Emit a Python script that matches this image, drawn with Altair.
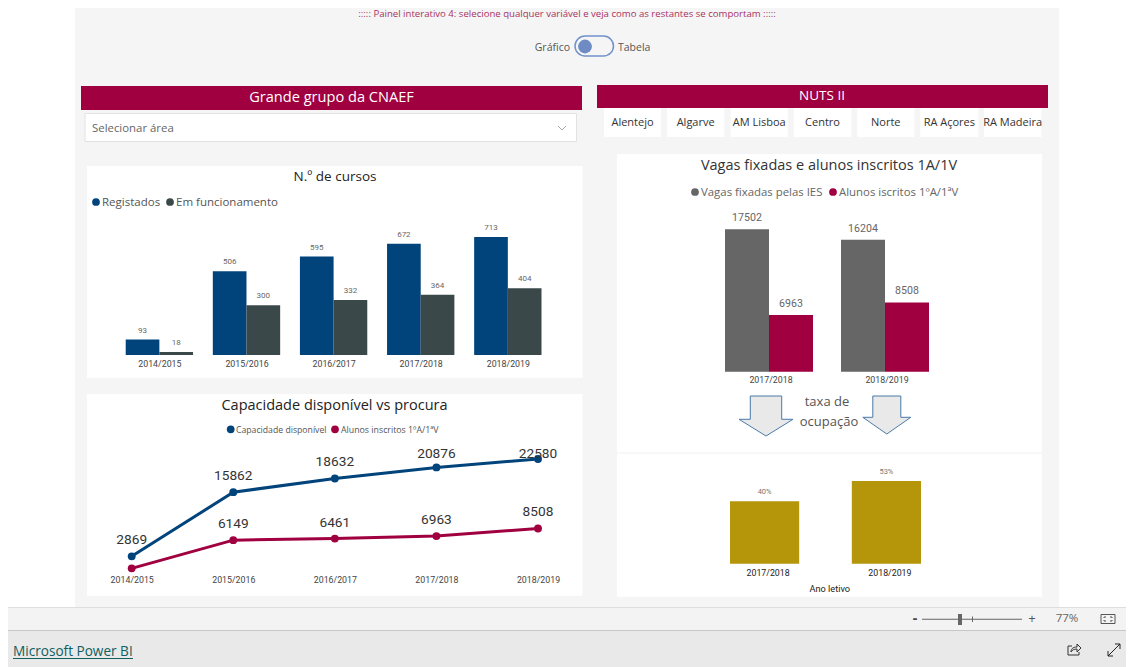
import altair as alt
import pandas as pd

# ---------- data ----------
anos5 = ["2014/2015", "2015/2016", "2016/2017", "2017/2018", "2018/2019"]
anos2 = ["2017/2018", "2018/2019"]
registados = [93, 506, 595, 672, 713]
em_funcionamento = [18, 300, 332, 364, 404]
capacidade = [2869, 15862, 18632, 20876, 22580]
inscritos = [440, 6149, 6461, 6963, 8508]
vagas2 = [17502, 16204]
inscritos2 = [6963, 8508]
taxa = [0.40, 0.53]
regioes = ["Alentejo", "Algarve", "AM Lisboa", "Centro", "Norte", "RA Açores", "RA Madeira"]

RED = "#A0003F"
BLUE = "#01437B"
DARK = "#3B484A"
GREY = "#666666"
GOLD = "#B5950A"
UI = "Open Sans"
NUM = "Roboto"
W, H = 1118, 659


def px(v):
    return v - 8


def one(t="x"):
    return pd.DataFrame({"t": [t]})


def box(x0, y0, x1, y1, fill, stroke=None, radius=0, sw=1):
    kw = dict(fill=fill, cornerRadius=radius)
    if stroke:
        kw.update(stroke=stroke, strokeWidth=sw)
    return alt.Chart(one()).mark_rect(**kw).encode(
        x=alt.value(px(x0)), x2=alt.value(px(x1)), y=alt.value(px(y0)), y2=alt.value(px(y1)))


def label(t, x, y, size, color, align="center", font=UI, weight="normal"):
    return alt.Chart(one(t)).mark_text(
        fontSize=size, color=color, align=align, baseline="middle", font=font, fontWeight=weight
    ).encode(text="t:N", x=alt.value(px(x)), y=alt.value(px(y)))


def glyph(path, x, y, fill=None, stroke=None, sw=1, size=4):
    kw = dict(shape=path, size=size, opacity=1)
    if fill:
        kw.update(filled=True, fill=fill)
    else:
        kw.update(filled=False)
    if stroke:
        kw.update(stroke=stroke, strokeWidth=sw)
    return alt.Chart(one()).mark_point(**kw).encode(x=alt.value(px(x)), y=alt.value(px(y)))


def dot(x, y, color, size=60):
    return alt.Chart(one()).mark_point(filled=True, fill=color, size=size, opacity=1, shape="circle").encode(
        x=alt.value(px(x)), y=alt.value(px(y)))


def bottom_axis(base_y, pad=5, color="#444444", size=8.8, **kw):
    return alt.Axis(title=kw.pop("title", None), orient="bottom", domain=False, ticks=False, grid=False, labelAngle=0,
                    labelFont=NUM, labelFontSize=size, labelColor=color, labelPadding=pad,
                    offset=px(base_y) - H, zindex=1, **kw)


# ---------- page furniture ----------
layers = [
    box(75, 0, 1059, 607, "#F5F5F5"),
    box(0, 607, 1134, 630, "#F3F3F3"),
    box(0, 607, 1134, 608, "#DEDEDE"),
    box(0, 630, 1134, 667, "#E9E9E9"),
    box(0, 630, 1134, 631, "#C8C8C8"),
    label("::::: Painel interativo 4: selecione qualquer variável e veja como as restantes se comportam :::::",
          567, 13.5, 9.6, "#A8335F"),
    label("Gráfico", 570, 47.5, 10.5, "#555555", "right"),
    label("Tabela", 618, 47.5, 10.5, "#555555", "left"),
    box(575, 36, 613.5, 56, "#F5F5F5", "#7091CC", 10, 1.5),
    dot(585, 46.5, "#6F8BC4", 190),
    box(81, 86, 582, 110, RED),
    label("Grande grupo da CNAEF", 331.5, 97.5, 14.6, "#FFFFFF"),
    box(85, 113.5, 576.5, 141.5, "#FFFFFF", "#E2E2E2"),
    label("Selecionar área", 92, 128.5, 11.4, "#666666", "left"),
    glyph("M-4 -2 L0 2 L4 -2", 562, 128, None, "#A8A8A8", 1),
    box(597, 85, 1048, 108, RED),
    label("NUTS II", 822, 95.5, 13.5, "#FFFFFF"),
]
btn_edges = [(604, 661), (667, 724.3), (730.7, 787.7), (793.7, 851.3), (857.3, 914.3), (920.3, 978.3), (984, 1041.3)]
for reg, (a, b) in zip(regioes, btn_edges):
    layers.append(box(a, 108, b, 137, "#FFFFFF"))
    layers.append(label(reg, (a + b) / 2, 123, 11, "#333333"))

layers += [
    box(87, 166, 582.5, 377.7, "#FFFFFF"),
    box(87, 394, 582.5, 595.7, "#FFFFFF"),
    box(617, 154, 1042, 596.7, "#FFFFFF"),
    box(617, 452.5, 1042, 453.5, "#F2F2F2"),
    # N.o de cursos
    label("N.º de cursos", 335, 176.5, 13.5, "#222222"),
    dot(96, 202, BLUE),
    label("Registados", 102, 203, 11.5, "#555555", "left"),
    dot(170, 202, DARK),
    label("Em funcionamento", 176, 203, 11.5, "#555555", "left"),
    # Capacidade
    label("Capacidade disponível vs procura", 334.5, 406, 14.5, "#222222"),
    dot(230.7, 429.3, BLUE),
    label("Capacidade disponível", 236, 429.5, 8.7, "#555555", "left"),
    dot(335, 429.3, RED),
    label("Alunos inscritos 1ºA/1ªV", 341, 429.5, 8.8, "#555555", "left"),
    # Vagas
    label("Vagas fixadas e alunos inscritos 1A/1V", 829, 166, 14.5, "#333333"),
    dot(695, 192, GREY),
    label("Vagas fixadas pelas IES", 701, 192.5, 11.4, "#666666", "left"),
    dot(833, 192, RED),
    label("Alunos iscritos 1ºA/1ªV", 839, 192.5, 11.4, "#666666", "left"),
    # arrows
    glyph("M-15.7 -20 L15.7 -20 L15.7 3.3 L27 3.3 L0 20 L-27 3.3 L-15.7 3.3 Z", 766, 416, "#E9E9E9", "#4A7BA8"),
    glyph("M-14 -19 L14 -19 L14 2.3 L24 2.3 L0 19 L-24 2.3 L-14 2.3 Z", 886.8, 415, "#E9E9E9", "#4A7BA8"),
    label("taxa de", 827, 402, 13, "#555555"),
    label("ocupação", 829, 421.7, 13, "#555555"),
    # status bar
    label("-", 915, 618.5, 14, "#444444", weight="bold"),
    box(922, 618.7, 1022, 619.7, "#666666"),
    box(958, 614, 962, 625, "#666666"),
    box(972, 616.5, 973, 622, "#666666"),
    label("+", 1032, 618.5, 13, "#555555"),
    label("77%", 1067, 619, 11.5, "#666666"),
    glyph("M-7 -4.5 L7 -4.5 L7 4.5 L-7 4.5 Z M-4 -1 L-4 -2 L-2 -2 M2 -2 L4 -2 L4 -1 M4 1 L4 2 L2 2 M-2 2 L-4 2 L-4 1",
          1108, 619, None, "#555555", 1),
    label("Microsoft Power BI", 13, 651.5, 13.6, "#0F5F5F", "left", weight=500),
    box(13, 658, 133, 659, "#0F5F5F"),
    glyph("M-2 -4 L-6 -4 L-6 5 L5 5 L5 2 M-3 2 C-3 -2 0 -3 3 -3 L3 -6 L7 -2 L3 2 L3 -1 C0 -1 -2 0 -3 2",
          1074, 650, None, "#333333", 1),
    glyph("M-6 6 L6 -6 M1 -6 L6 -6 L6 -1 M-6 1 L-6 6 L-1 6", 1114, 650, None, "#222222", 1),
]

# ---------- chart 1: N.o de cursos ----------
df1 = pd.DataFrame({
    "ano": anos5 * 2,
    "serie": ["Registados"] * 5 + ["Em funcionamento"] * 5,
    "valor": registados + em_funcionamento,
})
s1 = ["Registados", "Em funcionamento"]
x1 = alt.Scale(type="band", domain=anos5, range=[px(125.7), px(541.5)], paddingInner=0.227, paddingOuter=0)
y1 = alt.Scale(domain=[0, 713], range=[px(355), px(237)], nice=False, zero=True)
off1 = alt.XOffset("serie:N", scale=alt.Scale(domain=s1))
bars1 = alt.Chart(df1).mark_bar().encode(
    x=alt.X("ano:N", scale=x1, axis=bottom_axis(355, 4, labelOffset=0.5)),
    xOffset=off1,
    y=alt.Y("valor:Q", scale=y1, axis=None),
    color=alt.Color("serie:N", scale=alt.Scale(domain=s1, range=[BLUE, DARK]), legend=None),
)
text1 = alt.Chart(df1).mark_text(fontSize=8, font=NUM, color="#666666", dy=-9, baseline="middle").encode(
    x=alt.X("ano:N", scale=x1, axis=None),
    xOffset=off1,
    y=alt.Y("valor:Q", scale=y1, axis=None),
    text="valor:Q",
)

# ---------- chart 2: Capacidade vs procura ----------
df2 = pd.DataFrame({
    "ano": anos5 * 2,
    "serie": ["Capacidade disponível"] * 5 + ["Alunos inscritos"] * 5,
    "valor": capacidade + inscritos,
})
s2 = ["Capacidade disponível", "Alunos inscritos"]
x2 = alt.Scale(type="point", domain=anos5, range=[px(131.7), px(538)], padding=0)
y2 = alt.Scale(domain=[0, 22580], range=[px(570.5), px(459)], nice=False, zero=True)
col2 = alt.Color("serie:N", scale=alt.Scale(domain=s2, range=[BLUE, RED]), legend=None)
enc2 = dict(x=alt.X("ano:N", scale=x2, axis=None), y=alt.Y("valor:Q", scale=y2, axis=None))
line2 = alt.Chart(df2).mark_line(strokeWidth=3).encode(
    x=alt.X("ano:N", scale=x2, axis=bottom_axis(570.5, 5)),
    y=enc2["y"], color=col2)
pts2 = alt.Chart(df2).mark_point(filled=True, size=62, opacity=1).encode(**enc2, color=col2)
shown = df2[df2.valor != inscritos[0]]
txt = dict(fontSize=13.7, font=NUM, color="#333333", baseline="middle")
tx_a = alt.Chart(shown[~shown.valor.isin([capacidade[3], capacidade[4]])]).mark_text(dy=-16, **txt).encode(**enc2, text="valor:Q")
tx_b = alt.Chart(shown[shown.valor == capacidade[3]]).mark_text(dy=-13, **txt).encode(**enc2, text="valor:Q")
tx_c = alt.Chart(shown[shown.valor == capacidade[4]]).mark_text(dy=-5, **txt).encode(**enc2, text="valor:Q")

# ---------- chart 3: Vagas ----------
df3 = pd.DataFrame({
    "ano": anos2 * 2,
    "serie": ["Vagas"] * 2 + ["Alunos"] * 2,
    "valor": vagas2 + inscritos2,
})
s3 = ["Vagas", "Alunos"]
x3 = alt.Scale(type="band", domain=anos2, range=[px(725), px(929)], paddingInner=0.2414, paddingOuter=0)
y3 = alt.Scale(domain=[0, 17502], range=[px(371.7), px(229.3)], nice=False, zero=True)
off3 = alt.XOffset("serie:N", scale=alt.Scale(domain=s3))
bars3 = alt.Chart(df3).mark_bar().encode(
    x=alt.X("ano:N", scale=x3, axis=bottom_axis(371.7, 4, labelOffset=2)),
    xOffset=off3,
    y=alt.Y("valor:Q", scale=y3, axis=None),
    color=alt.Color("serie:N", scale=alt.Scale(domain=s3, range=[GREY, RED]), legend=None),
)
text3 = alt.Chart(df3).mark_text(fontSize=10.6, font=NUM, color="#666666", dy=-11, baseline="middle").encode(
    x=alt.X("ano:N", scale=x3, axis=None),
    xOffset=off3,
    y=alt.Y("valor:Q", scale=y3, axis=None),
    text="valor:Q",
)

# ---------- chart 4: taxa de ocupacao ----------
df4 = pd.DataFrame({"ano": anos2, "taxa": taxa})
x4 = alt.Scale(type="band", domain=anos2, range=[px(730), px(921)], paddingInner=0.432, paddingOuter=0)
y4 = alt.Scale(domain=[0, 0.53], range=[px(563.7), px(481)], nice=False, zero=True)
bars4 = alt.Chart(df4).mark_bar(color=GOLD).encode(
    x=alt.X("ano:N", scale=x4, axis=bottom_axis(563.7, 5, "#222222", title="Ano letivo", labelOffset=3.5,
                                               titleFont=NUM, titleFontSize=9.2, titleColor="#222222",
                                               titleFontWeight="normal", titlePadding=7, titleX=px(829.3))),
    y=alt.Y("taxa:Q", scale=y4, axis=None),
)
text4 = alt.Chart(df4).mark_text(fontSize=7.5, font=NUM, color="#777777", dy=-9, baseline="middle").encode(
    x=alt.X("ano:N", scale=x4, axis=None),
    y=alt.Y("taxa:Q", scale=y4, axis=None),
    text=alt.Text("taxa:Q", format=".0%"),
)

chart = alt.layer(
    *layers, bars1, text1, line2, pts2, tx_a, tx_b, tx_c, bars3, text3, bars4, text4
).resolve_scale(
    x="independent", y="independent", color="independent", xOffset="independent"
).properties(
    width=W, height=H, padding=0, autosize=alt.AutoSizeParams(type="none"), background="#FFFFFF"
).configure_view(stroke=None)

chart.save("out.html", embed_options={"renderer": "svg", "actions": False})
